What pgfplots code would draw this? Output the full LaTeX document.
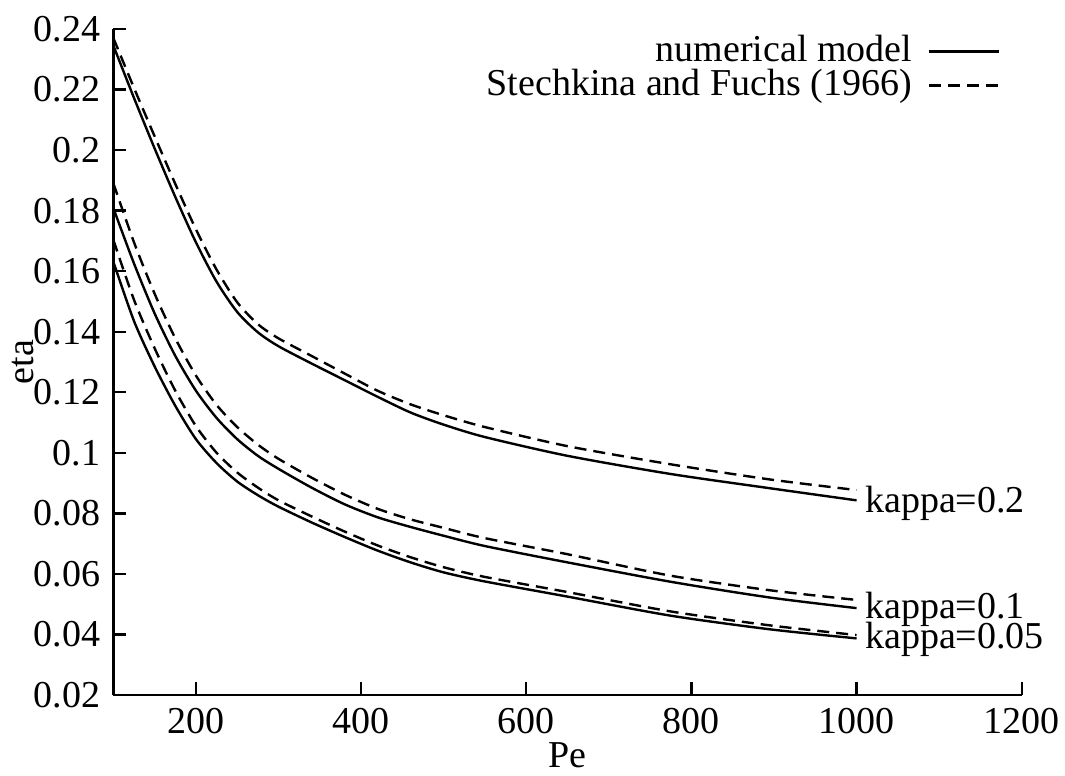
\documentclass[border=0pt]{standalone}
\usepackage{pgfplots}
\pgfplotsset{compat=1.18}
\usepackage{fontspec}
\setmainfont{Liberation Serif}

% Collection efficiency eta versus Peclet number for three packing densities
% s = numerical model, d = Stechkina and Fuchs (1966)
\pgfplotstableread{
Pe    s02     d02     s01     d01     s005    d005
100   0.2345  0.2370  0.1808  0.1890  0.1631  0.1703
125   0.2172  0.2205  0.1625  0.1695  0.1435  0.1505
150   0.2005  0.2045  0.1460  0.1525  0.1285  0.1345
175   0.1845  0.1888  0.1320  0.1378  0.1155  0.1205
200   0.1695  0.1738  0.1205  0.1255  0.1045  0.1088
225   0.1565  0.1605  0.1115  0.1158  0.0966  0.1000
250   0.1465  0.1497  0.1045  0.1085  0.0905  0.0935
275   0.1398  0.1425  0.0990  0.1027  0.0860  0.0885
300   0.1352  0.1378  0.0947  0.0980  0.0822  0.0843
340   0.1295  0.1320  0.0885  0.0918  0.0770  0.0790
380   0.1240  0.1262  0.0830  0.0862  0.0722  0.0740
420   0.1185  0.1205  0.0787  0.0815  0.0677  0.0694
460   0.1133  0.1160  0.0755  0.0780  0.0638  0.0655
500   0.1093  0.1124  0.0726  0.0752  0.0605  0.0622
550   0.1052  0.1085  0.0692  0.0718  0.0575  0.0590
650   0.0990  0.1022  0.0638  0.0665  0.0525  0.0540
775   0.0930  0.0962  0.0574  0.0594  0.0462  0.0476
895   0.0883  0.0912  0.0522  0.0546  0.0417  0.0430
1000  0.0843  0.0877  0.0487  0.0514  0.0387  0.0398
}\etadata

\begin{document}
\fontsize{19}{21}\selectfont
\begin{tikzpicture}
\begin{axis}[
  at={(0,0)}, anchor=south west,
  scale only axis,
  width=454.15pt, height=333pt,
  xmin=100, xmax=1200,
  ymin=0.02, ymax=0.24,
  axis x line*=bottom,
  axis y line*=left,
  axis line style={line width=1.2pt},
  tick style={line width=1.2pt, black},
  major tick length=6.5pt,
  tick align=inside,
  xtick={200,400,600,800,1000,1200},
  ytick={0.02,0.04,0.06,0.08,0.1,0.12,0.14,0.16,0.18,0.2,0.22,0.24},
  yticklabels={0.02,0.04,0.06,0.08,0.1,0.12,0.14,0.16,0.18,0.2,0.22,0.24},
  xticklabels={200,400,600,800,1000,1200},
  tick label style={font=\fontsize{19}{21}\selectfont},
  xlabel={Pe},
  ylabel={eta},
  every axis x label/.style={at={(axis description cs:0.5,-0.1096)}, anchor=base,
    font=\fontsize{19}{21}\selectfont},
  every axis y label/.style={at={(axis description cs:-0.100,0.5)}, anchor=center,
    rotate=90, font=\fontsize{19}{21}\selectfont},
  legend plot pos=right,
  legend cell align=right,
  legend style={draw=none, fill=none,
    at={(rel axis cs:0.977,1)}, anchor=north east, yshift=-1pt,
    font=\fontsize{19}{21}\selectfont,
    column sep=6pt, row sep=-3pt, inner sep=0pt},
  legend image code/.code={\draw[#1] (0pt,0pt) -- (35pt,0pt);},
  every axis plot/.append style={black, line width=1.2pt, smooth, tension=0.45},
  clip=false,
]
\addplot[black] table[x=Pe, y=s02] {\etadata};
\addlegendentry{numerical model}
\addplot[black, dash pattern=on 6pt off 3.5pt] table[x=Pe, y=d02] {\etadata};
\addlegendentry{Stechkina and Fuchs (1966)}
\addplot[black, forget plot] table[x=Pe, y=s01] {\etadata};
\addplot[black, forget plot, dash pattern=on 6pt off 3.5pt] table[x=Pe, y=d01] {\etadata};
\addplot[black, forget plot] table[x=Pe, y=s005] {\etadata};
\addplot[black, forget plot, dash pattern=on 6pt off 3.5pt] table[x=Pe, y=d005] {\etadata};

\node[anchor=base west, inner sep=0pt] at (axis cs:1010,0.0803) {kappa=0.2};
\node[anchor=base west, inner sep=0pt] at (axis cs:1010,0.0453) {kappa=0.1};
\node[anchor=base west, inner sep=0pt] at (axis cs:1010,0.0352) {kappa=0.05};
\end{axis}
\pgfresetboundingbox
\path[use as bounding box] (-56.7pt,-40.5pt) rectangle (475.8pt,347.5pt);
\end{tikzpicture}
\end{document}
